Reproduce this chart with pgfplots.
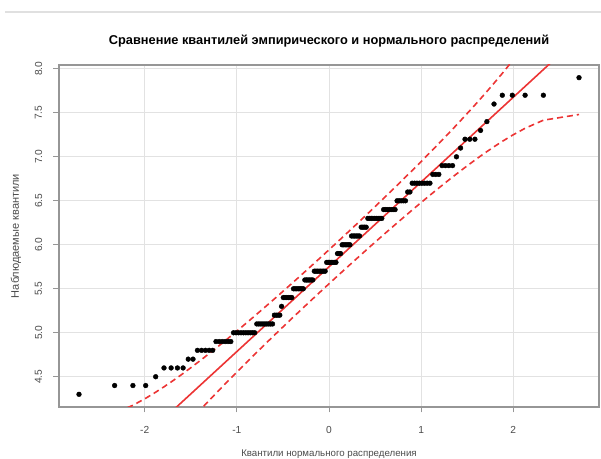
\documentclass[border=0pt]{standalone}
\usepackage{pgfplots}
\usepackage{pgfplotstable}
\pgfplotsset{compat=1.18}
\usepackage{fontspec}
\setmainfont{Liberation Sans}
\definecolor{qqred}{RGB}{236,52,52}
\definecolor{gridc}{RGB}{226,226,226}
\definecolor{framec}{RGB}{150,150,150}
\definecolor{txtc}{RGB}{75,75,75}

\pgfplotstableread{
x y
-2.7130 4.3
-2.3263 4.4
-2.1280 4.4
-1.9893 4.4
-1.8808 4.5
-1.7907 4.6
-1.7133 4.6
-1.6447 4.6
-1.5833 4.6
-1.5274 4.7
-1.4758 4.7
-1.4278 4.8
-1.3830 4.8
-1.3407 4.8
-1.3008 4.8
-1.2628 4.8
-1.2265 4.9
-1.1918 4.9
-1.1585 4.9
-1.1264 4.9
-1.0954 4.9
-1.0654 4.9
-1.0364 5.0
-1.0083 5.0
-0.9809 5.0
-0.9542 5.0
-0.9282 5.0
-0.9027 5.0
-0.8779 5.0
-0.8536 5.0
-0.8298 5.0
-0.8064 5.0
-0.7835 5.1
-0.7610 5.1
-0.7388 5.1
-0.7170 5.1
-0.6956 5.1
-0.6745 5.1
-0.6536 5.1
-0.6331 5.1
-0.6128 5.1
-0.5928 5.2
-0.5729 5.2
-0.5534 5.2
-0.5340 5.2
-0.5148 5.3
-0.4959 5.4
-0.4770 5.4
-0.4584 5.4
-0.4399 5.4
-0.4216 5.4
-0.4034 5.4
-0.3853 5.5
-0.3674 5.5
-0.3495 5.5
-0.3319 5.5
-0.3142 5.5
-0.2967 5.5
-0.2793 5.5
-0.2620 5.6
-0.2447 5.6
-0.2275 5.6
-0.2104 5.6
-0.1934 5.6
-0.1764 5.6
-0.1594 5.7
-0.1425 5.7
-0.1257 5.7
-0.1088 5.7
-0.0921 5.7
-0.0753 5.7
-0.0585 5.7
-0.0418 5.7
-0.0251 5.8
-0.0084 5.8
0.0084 5.8
0.0251 5.8
0.0418 5.8
0.0585 5.8
0.0753 5.8
0.0921 5.9
0.1088 5.9
0.1257 5.9
0.1425 6.0
0.1594 6.0
0.1764 6.0
0.1934 6.0
0.2104 6.0
0.2275 6.0
0.2447 6.1
0.2620 6.1
0.2793 6.1
0.2967 6.1
0.3142 6.1
0.3319 6.1
0.3495 6.2
0.3674 6.2
0.3853 6.2
0.4034 6.2
0.4216 6.3
0.4399 6.3
0.4584 6.3
0.4770 6.3
0.4959 6.3
0.5148 6.3
0.5340 6.3
0.5534 6.3
0.5729 6.3
0.5928 6.4
0.6128 6.4
0.6331 6.4
0.6536 6.4
0.6745 6.4
0.6956 6.4
0.7170 6.4
0.7388 6.5
0.7610 6.5
0.7835 6.5
0.8064 6.5
0.8298 6.5
0.8536 6.6
0.8779 6.6
0.9027 6.7
0.9282 6.7
0.9542 6.7
0.9809 6.7
1.0083 6.7
1.0364 6.7
1.0654 6.7
1.0954 6.7
1.1264 6.8
1.1585 6.8
1.1918 6.8
1.2265 6.9
1.2628 6.9
1.3008 6.9
1.3407 6.9
1.3830 7.0
1.4278 7.1
1.4758 7.2
1.5274 7.2
1.5833 7.2
1.6447 7.3
1.7133 7.4
1.7907 7.6
1.8808 7.7
1.9893 7.7
2.1280 7.7
2.3263 7.7
2.7130 7.9
}\pointsdata

\pgfplotstableread{
x y
-2.7130 4.0189
-2.3263 4.0838
-2.1280 4.1755
-1.9893 4.2551
-1.8808 4.3242
-1.7907 4.3854
-1.7133 4.4404
-1.6447 4.4908
-1.5833 4.5373
-1.4758 4.6211
-1.3830 4.6953
-1.2628 4.7942
-1.0954 4.9363
-0.9542 5.0594
-0.8298 5.1699
-0.7170 5.2715
-0.6128 5.3665
-0.5148 5.4568
-0.4216 5.5434
-0.3319 5.6274
-0.2447 5.7096
-0.1594 5.7906
-0.0753 5.8709
-0.0084 5.9352
0.0084 5.9514
0.0753 6.0161
0.1594 6.0978
0.2447 6.1812
0.3319 6.2671
0.4216 6.3559
0.5148 6.4490
0.6128 6.5476
0.7170 6.6535
0.8298 6.7692
0.9542 6.8985
1.0954 7.0476
1.2628 7.2281
1.3830 7.3608
1.4758 7.4656
1.5833 7.5889
1.6447 7.6608
1.7133 7.7426
1.7907 7.8368
1.8808 7.9492
1.9893 8.0892
2.1280 8.2770
2.3263 8.5674
2.7130 9.2479
}\upperdata

\pgfplotstableread{
x y
-2.7130 2.2520
-2.3263 2.9326
-2.1280 3.2231
-1.9893 3.4108
-1.8808 3.5508
-1.7907 3.6632
-1.7133 3.7574
-1.6447 3.8392
-1.5833 3.9111
-1.4758 4.0344
-1.3830 4.1392
-1.2628 4.2719
-1.0954 4.4524
-0.9542 4.6015
-0.8298 4.7308
-0.7170 4.8465
-0.6128 4.9524
-0.5148 5.0510
-0.4216 5.1440
-0.3319 5.2329
-0.2447 5.3188
-0.1594 5.4022
-0.0753 5.4839
-0.0084 5.5486
0.0084 5.5648
0.0753 5.6291
0.1594 5.7094
0.2447 5.7904
0.3319 5.8726
0.4216 5.9566
0.5148 6.0432
0.6128 6.1335
0.7170 6.2285
0.8298 6.3301
0.9542 6.4406
1.0954 6.5637
1.2628 6.7058
1.3830 6.8047
1.4758 6.8789
1.5833 6.9627
1.6447 7.0092
1.7133 7.0596
1.7907 7.1146
1.8808 7.1758
1.9893 7.2449
2.1280 7.3245
2.3263 7.4162
2.7130 7.4811
}\lowerdata

\begin{document}
\begin{tikzpicture}[x=1bp,y=1bp]
\path[use as bounding box] (-59,-52) rectangle (542,407);
\draw[black!12, line width=1.2bp] (-54,395) -- (542,395);
\begin{axis}[
  at={(0,0)}, anchor=south west,
  scale only axis, width=540bp, height=342bp,
  xmin=-2.930, xmax=2.930, ymin=4.156, ymax=8.044,
  xtick={-2,-1,0,1,2},
  xticklabels={-2,-1,0,1,2},
  ytick={4.5,5.0,5.5,6.0,6.5,7.0,7.5,8.0},
  yticklabels={4.5,5.0,5.5,6.0,6.5,7.0,7.5,8.0},
  xtick pos=bottom, ytick pos=left,
  tick align=outside,
  major tick length=5.5bp,
  tick style={framec, line width=0.9bp},
  axis line style={framec, line width=1.1bp},
  grid=major,
  grid style={gridc, line width=0.8bp},
  tick label style={font=\fontsize{10.2bp}{12bp}\selectfont, text=txtc},
  xticklabel style={anchor=center, yshift=-17bp},
  yticklabel style={anchor=center, xshift=-15bp, rotate=90},
  title={Сравнение квантилей эмпирического и нормального распределений},
  title style={font=\fontsize{12.8bp}{14bp}\selectfont\bfseries, at={(axis description cs:0.5,1.0526)}, anchor=center},
  xlabel={Квантили нормального распределения},
  xlabel style={font=\fontsize{9.7bp}{12bp}\selectfont, text=txtc, at={(axis description cs:0.5,-0.1375)}, anchor=center},
  ylabel={Наблюдаемые квантили},
  ylabel style={font=\fontsize{11bp}{12bp}\selectfont, text=txtc, at={(axis description cs:-0.0796,0.5)}, anchor=center},
]
\addplot[only marks, mark=*, mark size=2.4bp, black] table {\pointsdata};
\addplot[qqred, line width=1.6bp] coordinates {(-3,2.8589) (3,8.6411)};
\addplot[qqred, line width=1.6bp, dash pattern=on 6bp off 4bp] table {\upperdata};
\addplot[qqred, line width=1.6bp, dash pattern=on 6bp off 4bp] table {\lowerdata};
\end{axis}
\end{tikzpicture}
\end{document}
